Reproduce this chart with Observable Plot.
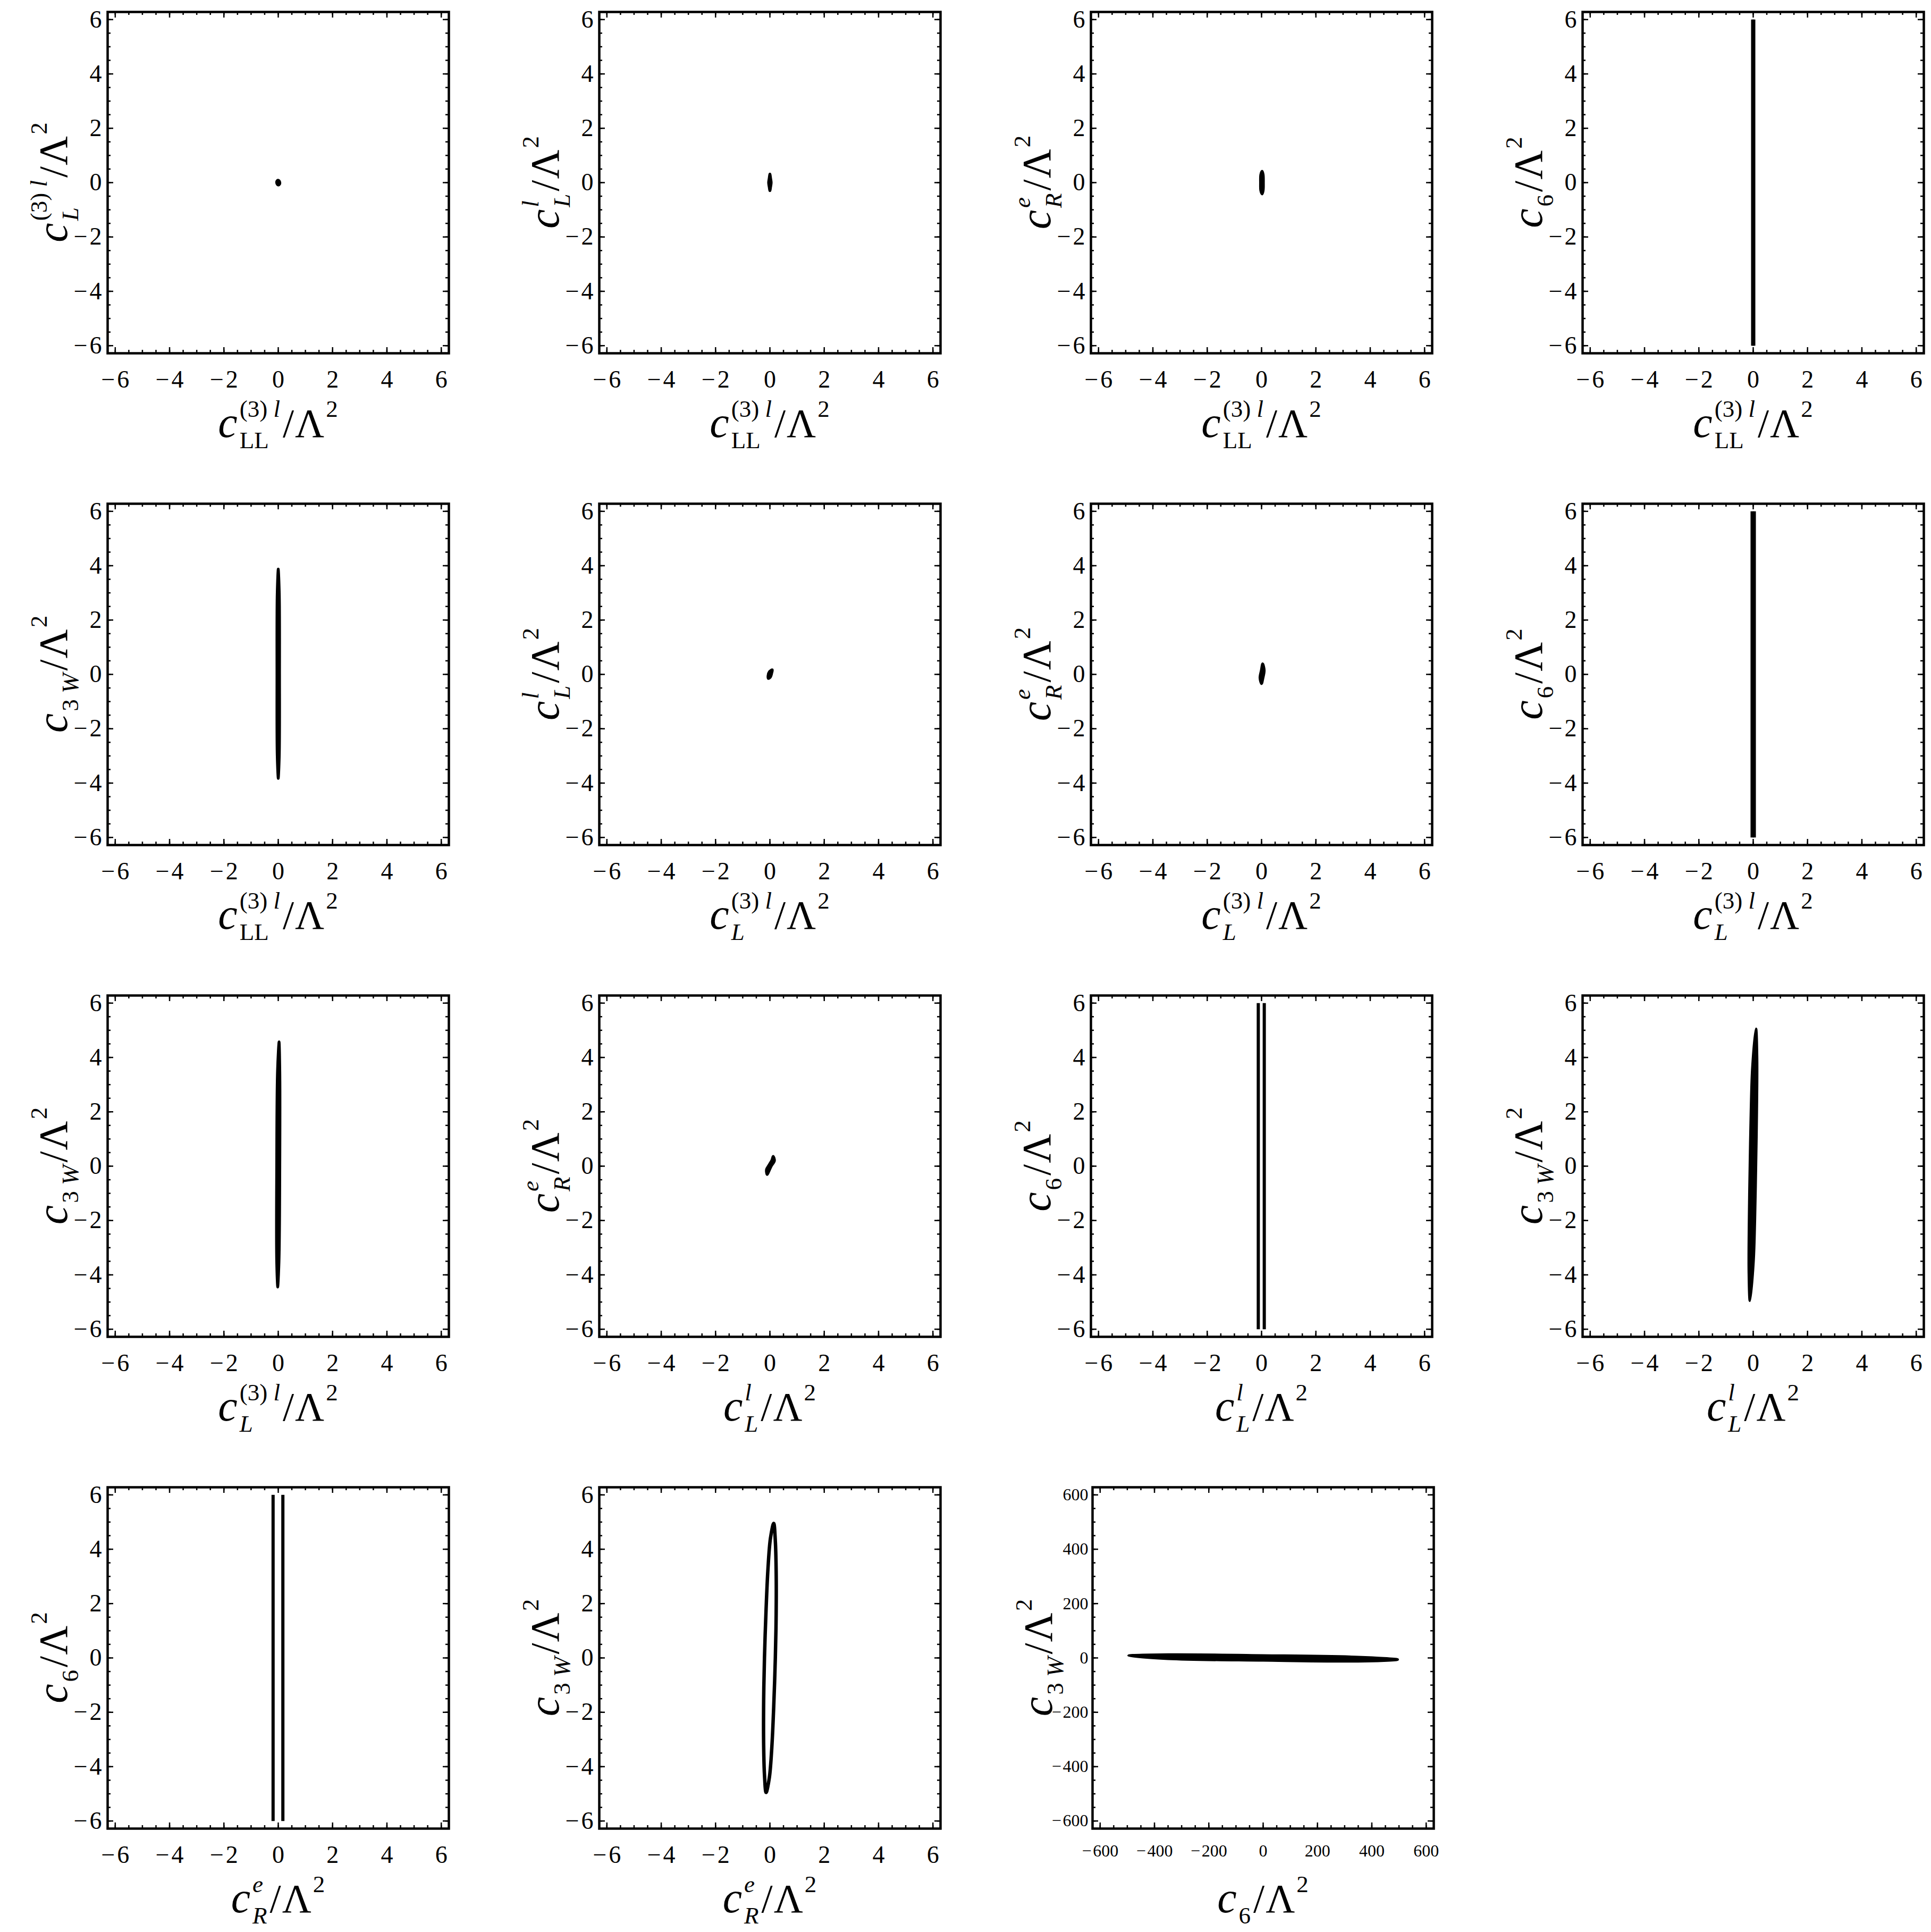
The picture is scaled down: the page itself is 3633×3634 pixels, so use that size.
<!DOCTYPE html>
<html>
<head>
<meta charset="utf-8">
<script src="https://cdn.jsdelivr.net/npm/d3@7"></script>
<script src="https://cdn.jsdelivr.net/npm/@observablehq/plot@0.6"></script>
<style>
  html, body { margin: 0; padding: 0; background: #fff; }
  body { width: 3633px; height: 3634px; position: relative; overflow: hidden; font-family: 'Liberation Serif', serif; }
  .panel { position: absolute; width: 925px; height: 859px; }
  .panel svg { max-width: none !important; display: block; }
  .panel svg text, .panel svg tspan { white-space: pre; }
</style>
</head>
<body>
<div id="root"></div>
<script>
// ---------- tick values ----------
const ticksMajor = [-6, -4, -2, 0, 2, 4, 6];
const ticksMinor = [-6, -5.5, -5, -4.5, -4, -3.5, -3, -2.5, -2, -1.5, -1, -0.5, 0, 0.5, 1, 1.5, 2, 2.5, 3, 3.5, 4, 4.5, 5, 5.5, 6];
const ticksMajorWide = [-600, -400, -200, 0, 200, 400, 600];
const ticksMinorWide = [-600, -550, -500, -450, -400, -350, -300, -250, -200, -150, -100, -50, 0, 50, 100, 150, 200, 250, 300, 350, 400, 450, 500, 550, 600];
const domainUnit = [-6.28, 6.28];
const domainWide = [-628, 628];

// ---------- panel layout (row, column, axes variables) ----------
const panelRow  = [0, 0, 0, 0, 1, 1, 1, 1, 2, 2, 2, 2, 3, 3, 3];
const panelCol  = [0, 1, 2, 3, 0, 1, 2, 3, 0, 1, 2, 3, 0, 1, 2];
const panelXVar = ["LL3", "LL3", "LL3", "LL3", "LL3", "L3", "L3", "L3", "L3", "Ll", "Ll", "Ll", "Re", "Re", "c6"];
const panelYVar = ["L3", "Ll", "Re", "c6", "c3W", "Ll", "Re", "c6", "c3W", "Re", "c6", "c3W", "c6", "c3W", "c3W"];
const panelRange = ["unit", "unit", "unit", "unit", "unit", "unit", "unit", "unit", "unit", "unit", "unit", "unit", "unit", "unit", "wide"];
// "filled" = closed contour drawn solid, "outline" = closed contour stroked, "open" = contour pieces cut by plot range
const panelKind = ["filled", "filled", "filled", "open", "filled", "filled", "filled", "open", "filled", "filled", "open", "filled", "open", "outline", "filled"];

// ---------- contour data ----------
const contour_LL3_L3 = [[0.00, 0.09], [0.05, 0.04], [0.05, -0.06], [0.00, -0.09], [-0.05, -0.04], [-0.05, 0.06]];
const contour_LL3_Ll = [[0.00, 0.32], [0.03, 0.15], [0.05, 0.00], [0.03, -0.15], [0.00, -0.30], [-0.03, -0.15], [-0.05, 0.00], [-0.03, 0.15]];
const contour_LL3_Re = [[0.02, 0.42], [0.06, 0.30], [0.07, 0.00], [0.06, -0.30], [0.02, -0.42], [-0.03, -0.30], [-0.04, 0.00], [-0.03, 0.30]];
const contour_LL3_c6 = [[[-0.02, -6], [-0.02, 6]], [[0.02, -6], [0.02, 6]]];
const contour_LL3_c3W = [[0.00, 3.88], [0.04, 3.00], [0.05, 0.00], [0.04, -3.00], [0.00, -3.83], [-0.04, -3.00], [-0.05, 0.00], [-0.04, 3.00]];
const contour_L3_Ll = [[0.09, 0.17], [0.07, 0.05], [0.02, -0.10], [-0.06, -0.15], [-0.07, -0.05], [-0.02, 0.10]];
const contour_L3_Re = [[0.04, 0.39], [0.10, 0.15], [0.05, -0.15], [0.00, -0.34], [-0.06, -0.13], [-0.01, 0.15]];
const contour_L3_c6 = [[[-0.04, -6], [-0.04, 6]], [[0.04, -6], [0.04, 6]]];
const contour_L3_c3W = [[0.03, 4.58], [0.06, 3.50], [0.06, 0.00], [0.03, -3.50], [-0.02, -4.45], [-0.06, -3.50], [-0.06, 0.00], [-0.03, 3.50]];
const contour_Ll_Re = [[0.12, 0.36], [0.17, 0.20], [0.05, 0.00], [-0.04, -0.20], [-0.10, -0.31], [-0.13, -0.13], [-0.03, 0.05], [0.07, 0.22]];
const contour_Ll_c6 = [[[-0.12, -6], [-0.12, 6]], [[0.10, -6], [0.10, 6]]];
const contour_Ll_c3W = [[0.10, 5.05], [0.14, 4.00], [0.13, 2.00], [0.10, 0.05], [0.06, -2.00], [0.01, -3.50], [-0.12, -4.95], [-0.16, -3.90], [-0.15, -1.90], [-0.12, 0.05], [-0.08, 2.10], [-0.03, 3.60]];
const contour_Re_c6 = [[[-0.19, -6], [-0.19, 6]], [[0.17, -6], [0.17, 6]]];
const contour_Re_c3W = [[0.14, 4.95], [0.20, 4.30], [0.23, 3.20], [0.23, 1.60], [0.20, 0.00], [0.14, -1.80], [0.07, -3.30], [-0.02, -4.40], [-0.14, -4.95], [-0.20, -4.30], [-0.23, -3.20], [-0.23, -1.60], [-0.20, 0.00], [-0.14, 1.80], [-0.07, 3.30], [0.02, 4.40]];
const contour_c6_c3W = [[-495, 8], [-350, 12], [0, 9], [350, 3], [495, -6], [350, -12], [0, -9], [-350, -3]];

const panelContours = [contour_LL3_L3, contour_LL3_Ll, contour_LL3_Re, contour_LL3_c6, contour_LL3_c3W,
  contour_L3_Ll, contour_L3_Re, contour_L3_c6, contour_L3_c3W,
  contour_Ll_Re, contour_Ll_c6, contour_Ll_c3W,
  contour_Re_c6, contour_Re_c3W, contour_c6_c3W];

// ---------- axis label texts: c with sub/superscripts ----------
const labelSub = {LL3: [["LL", 0]], L3: [["L", 1]], Ll: [["L", 1]], Re: [["R", 1]], c6: [["6", 0]], c3W: [["3 ", 0], ["W", 1]]};
const labelSup = {LL3: [["(3) ", 0], ["l", 1]], L3: [["(3) ", 0], ["l", 1]], Ll: [["l", 1]], Re: [["e", 1]], c6: [], c3W: []};

// ---------- drawing ----------
const FONT = "'Liberation Serif', 'Times New Roman', Times, serif";
const PW = 925, PH = 859;
const FW = 642, FH = 642, MT = 22;
const CSIZE = 82, BIG = 76, SMALL = 45, SUBDY = 21, SUPDY = -38;

function fmtTick(d) { return d < 0 ? "\u2212\u200A" + (-d) : String(d); }

const measureCtx = document.createElement("canvas").getContext("2d");
function textWidth(segs, size) {
  let w = 0;
  for (const [s, it] of segs) {
    measureCtx.font = `${it ? "italic " : ""}${size}px 'Liberation Serif', serif`;
    w += measureCtx.measureText(s).width;
  }
  return w;
}

function contourMarks(i) {
  const kind = panelKind[i];
  const data = panelContours[i];
  if (kind === "open") {
    return data.map(seg => Plot.line(seg, {x: d => d[0], y: d => d[1], stroke: "black", strokeWidth: 6, strokeLinecap: "butt"}));
  }
  if (kind === "outline") {
    return [Plot.line(data, {x: d => d[0], y: d => d[1], curve: "catmull-rom-closed", stroke: "black", strokeWidth: 6.5})];
  }
  return [Plot.line(data, {x: d => d[0], y: d => d[1], curve: "catmull-rom-closed", stroke: "black", fill: "black", strokeWidth: 5})];
}

function makePlot(i) {
  const wide = panelRange[i] === "wide";
  const dom = wide ? domainWide : domainUnit;
  const major = wide ? ticksMajorWide : ticksMajor;
  const minor = wide ? ticksMinorWide : ticksMinor;
  const ml = wide ? 205 : 202;
  const fs = wide ? 32 : 46;
  const svg = Plot.plot({
    width: PW, height: PH,
    marginLeft: ml, marginRight: PW - ml - FW, marginTop: MT, marginBottom: PH - MT - FH,
    x: {domain: dom}, y: {domain: dom},
    style: {fontFamily: FONT, color: "black", background: "transparent", overflow: "visible"},
    marks: [
      ...contourMarks(i),
      Plot.tickX(minor, {x: d => d, insetTop: FH - 6, strokeWidth: 2.5}),
      Plot.tickX(minor, {x: d => d, insetBottom: FH - 6, strokeWidth: 2.5}),
      Plot.tickY(minor, {y: d => d, insetRight: FW - 6, strokeWidth: 2.5}),
      Plot.tickY(minor, {y: d => d, insetLeft: FW - 6, strokeWidth: 2.5}),
      Plot.tickX(major, {x: d => d, insetTop: FH - 11, strokeWidth: 2.5}),
      Plot.tickX(major, {x: d => d, insetBottom: FH - 11, strokeWidth: 2.5}),
      Plot.tickY(major, {y: d => d, insetRight: FW - 11, strokeWidth: 2.5}),
      Plot.tickY(major, {y: d => d, insetLeft: FW - 11, strokeWidth: 2.5}),
      Plot.frame({stroke: "black", strokeWidth: 4.5}),
      Plot.axisX(major, {anchor: "bottom", tickSize: 0, tickPadding: wide ? 30 : 32, fontSize: fs, tickFormat: fmtTick, fill: "black"}),
      Plot.axisY(major, {anchor: "left", tickSize: 0, tickPadding: wide ? 8 : 11, fontSize: fs, tickFormat: fmtTick, fill: "black"})
    ]
  });
  svg.setAttribute("font-family", FONT);
  d3.select(svg).selectAll("text").attr("font-family", FONT);
  return svg;
}

// One <text> per axis title; sub- and superscripts are tspans shifted with dx/dy.
function drawTitle(svg, key, ax, ay, rot) {
  const g = d3.select(svg).append("g").attr("fill", "black");
  const text = g.append("text").attr("font-family", FONT).attr("x", 0).attr("y", 0);
  const span = (s, it, size, dx, dy) => text.append("tspan")
    .attr("font-style", it ? "italic" : "normal").attr("font-size", size)
    .attr("dx", dx).attr("dy", dy).text(s);
  span("c", 1, CSIZE, 0, 0);
  const sub = labelSub[key], sup = labelSup[key];
  const w1 = sub.length ? textWidth(sub, SMALL) : 0;
  const w2 = sup.length ? textWidth(sup, SMALL) : 0;
  const wmax = Math.max(w1, w2);
  const gapC = 4;
  let level = 0, written = 0;
  sub.forEach(([s, it], k) => span(s, it, SMALL, k === 0 ? gapC : 0, k === 0 ? SUBDY - level : 0));
  if (sub.length) { level = SUBDY; written = w1; }
  sup.forEach(([s, it], k) => span(s, it, SMALL, k === 0 ? (sub.length ? -w1 : gapC) : 0, k === 0 ? SUPDY - level : 0));
  if (sup.length) { level = SUPDY; written = w2; }
  span("/", 0, BIG, wmax - written + 5, -level);
  span("\u039B", 0, BIG, 2, 0);
  span("2", 0, SMALL, 3, SUPDY);
  const bb = text.node().getBBox();
  const cx = bb.x + bb.width / 2;
  g.attr("transform", `translate(${ax},${ay}) rotate(${rot}) translate(${-cx},0)`);
}

const root = document.getElementById("root");
for (let i = 0; i < panelRow.length; i++) {
  const div = document.createElement("div");
  div.className = "panel";
  div.style.left = (panelCol[i] * 925) + "px";
  div.style.top = (panelRow[i] * 925) + "px";
  root.appendChild(div);
  const svg = makePlot(i);
  div.appendChild(svg);
  const ml = panelRange[i] === "wide" ? 205 : 202;
  drawTitle(svg, panelXVar[i], ml + FW / 2, MT + FH + 158, 0);
  drawTitle(svg, panelYVar[i], ml - 76, MT + FH / 2, -90);
}
</script>
</body>
</html>
